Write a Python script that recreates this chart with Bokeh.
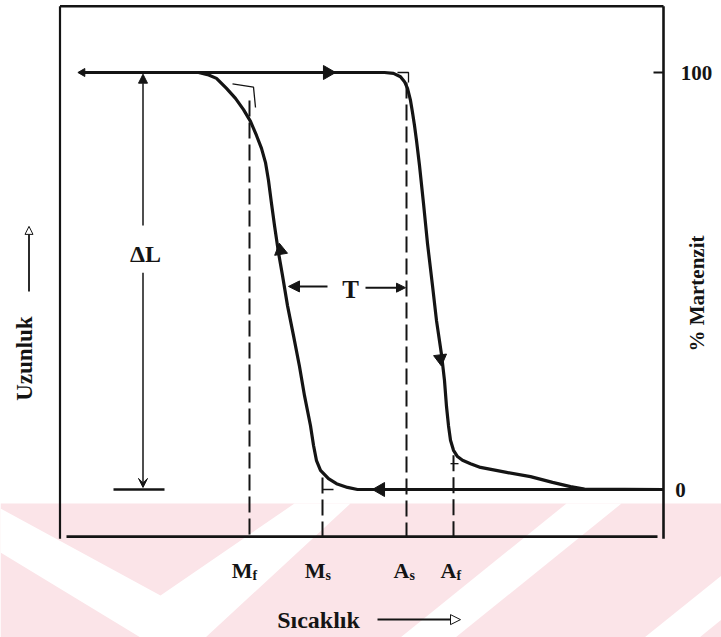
import math
from bokeh.plotting import figure
from bokeh.models import Range1d, Arrow, NormalHead, VeeHead
from bokeh.core.properties import value
from bokeh.embed import file_html
from bokeh.resources import INLINE

# ---------------- data (temperature: arbitrary units, martensite: %) ----------------
# cooling branch (austenite -> martensite)
cool_temp = [603, 297, 287, 276, 268, 260, 256, 253, 250, 244, 239, 233, 227, 222,
             218, 214, 211, 208, 205, 201, 196, 190, 183, 175, 166, 156, 147, 138]
cool_mart = [0, 0, 0.5, 1.4, 2.6, 4.6, 6.9, 10.6, 15.3, 22.5, 29.5, 36.9, 44.1, 51.3,
             56.8, 63.3, 68.6, 74.1, 78.4, 81.8, 84.9, 88.3, 91.1, 93.8, 96.2, 98.6, 99.5, 100]
# heating branch (martensite -> austenite)
heat_temp = [20, 324, 333, 340, 344, 347, 350, 352, 354, 356, 359, 363, 367, 372, 376,
             381, 384, 386, 388, 390, 393, 397, 402, 410, 420, 446, 470, 492, 510, 524, 603]
heat_mart = [100, 100, 99.8, 99.0, 97.8, 96.2, 93.3, 90.4, 87.3, 83.7, 77.7, 68.6, 59.0,
             48.9, 40.5, 32.4, 26.1, 19.9, 15.3, 11.8, 9.4, 7.9, 7.0, 6.2, 5.3, 4.1, 3.1,
             1.7, 0.7, 0.1, 0]
# transformation temperatures
trans_names = ["M", "M", "A", "A"]
trans_subs = ["f", "s", "s", "f"]
trans_temp = [189, 262, 346, 393]
trans_dash_top = [93.3, 2.9, 97.6, 8.2]
# right-axis ticks
right_ticks = [100, 0]
right_tick_labels = ["100", "0"]
# temperature-hysteresis and length change
hyst_from, hyst_to = 262, 346
dl_temp = 82.5

# decorative page watermark (pale pink chevrons)
wm_band_t = [-60, 661, 661, -60]
wm_band_m = [-3.36, -3.36, -35.5, -35.5]
wm_white_t = [[-60, 100, 234, 290, 145, 80, -60], [340, 395, 561, 506], [584, 639, 661, 661]]
wm_white_m = [[-4.56, -25.42, -3.36, -3.36, -35.49, -35.49, -15.11],
              [-35.49, -35.49, -3.36, -3.36], [-35.49, -35.49, -31.18, -20.62]]

INK = "#141414"
FONT = value("Liberation Serif")

p = figure(width=721, height=637, output_backend="svg", toolbar_location=None,
           x_range=Range1d(-60, 661), y_range=Range1d(-35.49, 117.27),
           x_axis_location=None, y_axis_location=None, min_border=0)
p.grid.visible = False
p.xgrid.grid_line_color = None
p.ygrid.grid_line_color = None
p.outline_line_color = None
p.background_fill_color = "white"
p.border_fill_color = "white"

# watermark
p.patch(wm_band_t, wm_band_m, fill_color="#fbe4e8", line_color=None)
p.patches(wm_white_t, wm_white_m, fill_color="white", line_color=None)

# frame
frame_top, frame_bot, frame_left, frame_right = 115.9, -11.3, -0.5, 603
p.line([frame_left, frame_left], [frame_top, frame_bot - 0.5], line_width=2.2, color=INK)
p.line([frame_left, frame_right], [frame_top, frame_top], line_width=2.6, color=INK)
p.line([frame_right, frame_right], [frame_top, frame_bot - 0.5], line_width=2.6, color=INK)
p.line([6, 597], [frame_bot, frame_bot], line_width=2.6, color=INK)
# right-axis ticks & labels
p.segment(x0=[593] * 2, y0=right_ticks, x1=[frame_right] * 2, y1=right_ticks, line_width=2, color=INK)
p.text(x=[636, 620], y=[100, -0.2], text=right_tick_labels, text_font=FONT, text_font_style="bold",
       text_font_size="21px", text_align="center", text_baseline="middle", text_color=INK)

# dashed transformation lines
p.segment(x0=trans_temp, y0=trans_dash_top, x1=trans_temp, y1=[frame_bot] * 4,
          line_dash="16 6", line_width=2, color=INK)
# small construction marks
p.line([172, 193, 195], [97.3, 96.5, 91.6], line_width=1.3, color=INK)
p.line([337, 348, 348], [100, 100, 97.6], line_width=1.3, color=INK)
p.line([262, 273], [0, 0], line_width=1.5, color=INK)
p.line([390, 398], [6.2, 6.2], line_width=1.3, color=INK)

# curves
p.line(heat_temp, heat_mart, line_width=3.2, color=INK, line_join="round")
p.line(cool_temp, cool_mart, line_width=3.2, color=INK, line_join="round")

# direction arrows on curves
p.scatter([267, 320, 220, 380, 22], [100, 0, 57.3, 31.4, 100], marker="triangle",
          size=[14, 14, 13, 13, 8], angle=[-math.pi / 2, math.pi / 2, 0.16, math.pi + 0.12, math.pi / 2],
          color=INK)

# delta L
p.add_layout(Arrow(x_start=dl_temp, y_start=63.3, x_end=dl_temp, y_end=99.6, line_width=1.5,
                   line_color=INK, end=NormalHead(size=9, fill_color=INK, line_color=INK)))
p.add_layout(Arrow(x_start=dl_temp, y_start=52.0, x_end=dl_temp, y_end=0.5, line_width=1.5,
                   line_color=INK, end=VeeHead(size=9, fill_color=INK, line_color=INK)))
p.line([53, 104], [0, 0], line_width=2.5, color=INK)
p.text(x=[85], y=[56.4], text=["ΔL"], text_font=FONT, text_font_style="bold",
       text_font_size="24px", text_align="center", text_baseline="middle", text_color=INK)

# hysteresis T
p.add_layout(Arrow(x_start=267, y_start=48.7, x_end=hyst_from - 34, y_end=48.7, line_width=2,
                   line_color=INK, end=NormalHead(size=11, fill_color=INK, line_color=INK)))
p.add_layout(Arrow(x_start=305, y_start=48.4, x_end=hyst_to - 1, y_end=48.4, line_width=2,
                   line_color=INK, end=NormalHead(size=9, fill_color=INK, line_color=INK)))
p.text(x=[290], y=[47.9], text=["T"], text_font=FONT, text_font_style="bold",
       text_font_size="25px", text_align="center", text_baseline="middle", text_color=INK)

# temperature labels M_f, M_s, A_s, A_f
lab_x = [t + 3 for t in trans_temp]
p.text(x=lab_x, y=[-19.4] * 4, text=trans_names, text_font=FONT, text_font_style="bold",
       text_font_size="22px", text_align="right", text_baseline="alphabetic", text_color=INK)
p.text(x=lab_x, y=[-20.6] * 4, text=trans_subs, text_font=FONT, text_font_style="bold",
       text_font_size="14px", text_align="left", text_baseline="alphabetic", text_color=INK)

# axis titles
p.text(x=[258], y=[-31.4], text=["Sıcaklık"], text_font=FONT, text_font_style="bold",
       text_font_size="24px", text_align="center", text_baseline="middle", text_color=INK)
p.add_layout(Arrow(x_start=317, y_start=-31.2, x_end=400, y_end=-31.2, line_width=2,
                   line_color=INK, end=NormalHead(size=10, fill_color="white", line_color=INK)))
p.text(x=[-36], y=[31.4], text=["Uzunluk"], angle=[math.pi / 2], text_font=FONT,
       text_font_style="bold", text_font_size="23px", text_align="center", text_baseline="middle",
       text_color=INK)
p.add_layout(Arrow(x_start=-31.5, y_start=47.5, x_end=-31.5, y_end=63.1, line_width=1.8,
                   line_color=INK, end=NormalHead(size=8, fill_color="white", line_color=INK)))
p.text(x=[636], y=[47.0], text=["% Martenzit"], angle=[math.pi / 2], text_font=FONT,
       text_font_style="bold", text_font_size="21px", text_align="center", text_baseline="middle",
       text_color=INK)

open("out.html", "w").write(file_html(p, INLINE))
